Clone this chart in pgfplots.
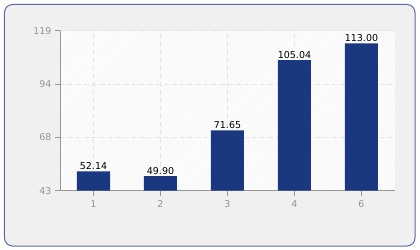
\documentclass[border=0pt]{standalone}
\usepackage{pgfplots}
\pgfplotsset{compat=1.18}
\usepackage{fontspec}
\setmainfont{DejaVu Sans}
\usetikzlibrary{patterns}
\definecolor{barblue}{RGB}{26,56,128}
\definecolor{framebg}{RGB}{240,240,240}
\definecolor{frameline}{RGB}{90,105,165}
\definecolor{tickgray}{RGB}{150,150,150}
\definecolor{gridgray}{RGB}{228,228,228}
\begin{document}
\begin{tikzpicture}[x=1bp,y=1bp]
\path[use as bounding box] (0,0) rectangle (420,250);
\draw[frameline, line width=1bp, fill=framebg, rounded corners=8bp] (4.5,4) rectangle (415,245.5);
\begin{axis}[
  at={(60bp,59.3bp)}, anchor=south west,
  scale only axis, width=335bp, height=160bp,
  xmin=-0.5, xmax=4.5, ymin=43, ymax=119,
  axis x line*=bottom, axis y line*=left,
  axis line style={tickgray, line width=0.8bp},
  axis background/.style={fill=white, postaction={pattern=north east lines, pattern color=black!5}},
  xtick={0,1,2,3,4}, xticklabels={1,2,3,4,6},
  ytick={43,68.333,93.667,119}, yticklabels={43,68,94,119},
  tick align=outside, major tick length=5bp,
  tick style={tickgray, line width=0.8bp},
  ticklabel style={font=\fontsize{9.5}{11}\selectfont, text=tickgray},
  xticklabel style={yshift=-1.5bp},
  grid=major, major grid style={gridgray, dash pattern=on 5bp off 3bp, line width=0.7bp},
  ybar, bar width=33bp,
  nodes near coords,
  nodes near coords style={font=\fontsize{9.5}{11}\selectfont, text=black, inner sep=1.5bp, /pgf/number format/.cd, fixed, fixed zerofill, precision=2, assume math mode=true},
  /pgf/number format/assume math mode=true,
  clip=false,
]
\addplot[fill=barblue, draw=none] coordinates {(0,52.14) (1,49.90) (2,71.65) (3,105.04) (4,113.00)};
\end{axis}
\end{tikzpicture}
\end{document}
